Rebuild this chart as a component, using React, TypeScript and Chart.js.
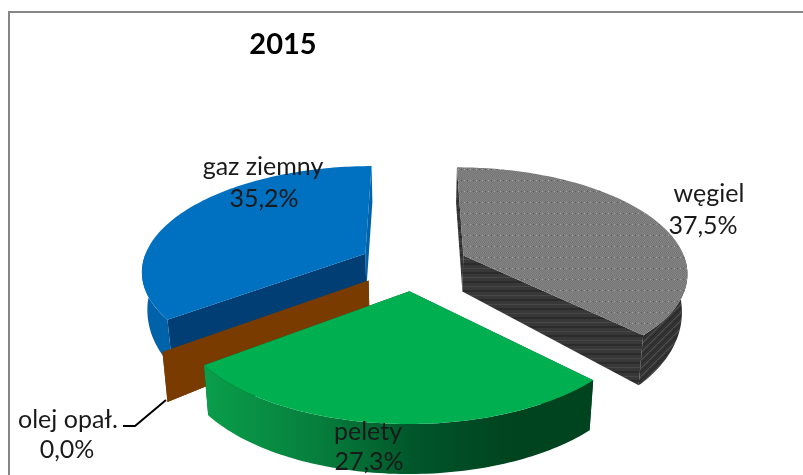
import React, { useEffect, useRef } from "react";
import { Chart, registerables } from "chart.js";

Chart.register(...registerables);

const chartTitle = "2015";
const categories = ["węgiel", "pelety", "olej opał.", "gaz ziemny"];
const shares = [37.5, 27.3, 0.0, 35.2];

const FONT = "Lato, Carlito, sans-serif";
const labelAnchors = [
  [709, 194, 703, 226],
  [368, 432, 369, 462],
  [68, 420, 67, 450],
  [263, 167, 264, 199],
];
const topColors = ["#7f7f7f", "#00B050", "#7A3B00", "#0070C0"];
const startWallColors = ["#383838", "#004d26", "#7A3B00", "#003E73"];
const endWallColors = ["#383838", "#004d26", "#7A3B00", "#0062A8"];
const rimColors = ["#333333", "#006B35", "#7A3B00", "#0062A8"];
const drawOrder = [0, 3, 2, 1];

const EXPLODE = 0.245;
const PERSP = 0.15;
const RX = 1.064;
const RY = 0.495;
const SHRINK = 0.98;

function tile(w: number, h: number, paint: (c: CanvasRenderingContext2D) => void) {
  const cv = document.createElement("canvas");
  cv.width = w;
  cv.height = h;
  const c = cv.getContext("2d")!;
  paint(c);
  return cv;
}

function grayTop(ctx: CanvasRenderingContext2D) {
  return ctx.createPattern(
    tile(12, 11, (c) => {
      for (let y = 0; y < 11; y++)
        for (let x = 0; x < 12; x++) {
          c.fillStyle = (x + y) % 2 ? "#858585" : "#747474";
          c.fillRect(x, y, 1, 1);
        }
      c.fillStyle = "#a0a0a0";
      c.fillRect(2, 4, 1, 1);
      c.fillRect(8, 4, 1, 1);
      c.fillStyle = "#606060";
      c.fillRect(5, 4, 1, 1);
      c.fillRect(11, 4, 1, 1);
    }),
    "repeat"
  )!;
}

function grayFront(ctx: CanvasRenderingContext2D) {
  return ctx.createPattern(
    tile(4, 9, (c) => {
      c.fillStyle = "#383838";
      c.fillRect(0, 0, 4, 9);
      c.fillStyle = "#2b2b2b";
      c.fillRect(0, 2, 4, 2);
      c.fillStyle = "#474747";
      c.fillRect(0, 7, 4, 1);
    }),
    "repeat"
  )!;
}

function grayRim(ctx: CanvasRenderingContext2D) {
  return ctx.createPattern(
    tile(8, 8, (c) => {
      c.fillStyle = "#333333";
      c.fillRect(0, 0, 8, 8);
      c.fillStyle = "#484848";
      for (let i = 0; i < 8; i++) c.fillRect(i, (8 - i) % 8, 1, 2);
      c.fillStyle = "#262626";
      for (let i = 0; i < 8; i++) c.fillRect(i, (12 - i) % 8, 1, 1);
    }),
    "repeat"
  )!;
}

const pie3d = {
  id: "pie3d",
  beforeDraw(chart: any) {
    const { ctx, width, height } = chart;
    ctx.save();
    ctx.fillStyle = "#ffffff";
    ctx.fillRect(0, 0, width, height);
    ctx.strokeStyle = "#868686";
    ctx.lineWidth = 2;
    ctx.strokeRect(9, 12, 810, 520);
    ctx.restore();
  },
  beforeDatasetDraw(chart: any, args: any) {
    const ctx: CanvasRenderingContext2D = chart.ctx;
    const arcs = args.meta.data;

    const makeProjector = (arc: any, ox: number, oy: number) => {
      const B = arc.outerRadius * RX;
      const A = arc.outerRadius * RY;
      const top = (a: number, r: number) => {
        const x = ox + Math.sin(a) * r;
        const y = oy - Math.cos(a) * r;
        const p = 1 / (1 - PERSP * y);
        return { sx: arc.x + x * B * p, sy: arc.y + y * A * p, y };
      };
      const low = (a: number, r: number) => {
        const t = top(a, r);
        const depth = 36 + 14 * Math.min(1, Math.max(0, t.y) / 0.6);
        return { sx: arc.x + (t.sx - arc.x) * SHRINK, sy: t.sy + depth, y: t.y };
      };
      return { top, low };
    };

    const poly = (pts: { sx: number; sy: number }[], fill: any) => {
      ctx.beginPath();
      pts.forEach((q, i) => (i ? ctx.lineTo(q.sx, q.sy) : ctx.moveTo(q.sx, q.sy)));
      ctx.closePath();
      ctx.fillStyle = fill;
      ctx.fill();
    };

    ctx.save();
    for (const i of drawOrder) {
      const arc = arcs[i];
      const a0 = arc.startAngle + Math.PI / 2;
      const a1 = arc.endAngle + Math.PI / 2;
      const mid = (a0 + a1) / 2;
      const P = makeProjector(arc, Math.sin(mid) * EXPLODE, -Math.cos(mid) * EXPLODE);

      const sweep = (s: number, e: number, fn: (a: number, r: number) => any) => {
        const n = Math.max(1, Math.ceil((e - s) / 0.02));
        const out = [];
        for (let k = 0; k <= n; k++) out.push(fn(s + ((e - s) * k) / n, 1));
        return out;
      };

      poly(
        [P.top(a1, 0), P.top(a1, 1), P.low(a1, 1), P.low(a1, 0)],
        i === 0 ? grayFront(ctx) : endWallColors[i]
      );
      poly(
        [P.top(a0, 0), P.top(a0, 1), P.low(a0, 1), P.low(a0, 0)],
        i === 0 ? grayFront(ctx) : startWallColors[i]
      );

      const rs = Math.max(a0, Math.PI / 2);
      const re = Math.min(a1, (3 * Math.PI) / 2);
      if (re > rs) {
        let rimFill: any = rimColors[i];
        if (i === 0) rimFill = grayRim(ctx);
        if (i === 1) {
          const g = ctx.createLinearGradient(200, 0, 592, 0);
          g.addColorStop(0, "#0A9F4B");
          g.addColorStop(0.3, "#067F3D");
          g.addColorStop(0.55, "#005529");
          g.addColorStop(0.8, "#00431F");
          g.addColorStop(1, "#00441F");
          rimFill = g;
        }
        poly([...sweep(rs, re, P.top), ...sweep(rs, re, P.low).reverse()], rimFill);
      }

      const topFill = i === 0 ? grayTop(ctx) : topColors[i];
      poly([P.top(a0, 0), ...sweep(a0, a1, P.top)], topFill);
    }
    ctx.restore();
    return false;
  },
  afterDraw(chart: any) {
    const ctx: CanvasRenderingContext2D = chart.ctx;
    ctx.save();
    ctx.textAlign = "center";
    ctx.textBaseline = "middle";
    ctx.fillStyle = "#000000";
    ctx.font = `bold 29px ${FONT}`;
    ctx.fillText(chartTitle, 283, 45);

    ctx.strokeStyle = "#000000";
    ctx.lineWidth = 2;
    ctx.beginPath();
    ctx.moveTo(123, 426);
    ctx.lineTo(135, 426);
    ctx.lineTo(166, 400);
    ctx.stroke();

    ctx.font = `25px ${FONT}`;
    ctx.fillStyle = "#1a1a1a";
    categories.forEach((name, i) => {
      const [x1, y1, x2, y2] = labelAnchors[i];
      ctx.fillText(name, x1, y1);
      ctx.fillText(`${shares[i].toFixed(1).replace(".", ",")}%`, x2, y2);
    });
    ctx.restore();
  },
};

export default function App() {
  const ref = useRef<HTMLCanvasElement>(null);
  useEffect(() => {
    const chart = new Chart(ref.current!, {
      type: "pie",
      data: {
        labels: categories,
        datasets: [{ data: shares, backgroundColor: topColors, borderWidth: 0 }],
      },
      options: {
        responsive: false,
        animation: false,
        events: [],
        layout: { padding: { left: 24, top: 55 } },
        plugins: { legend: { display: false }, tooltip: { enabled: false }, title: { display: false } },
      },
      plugins: [pie3d],
    } as any);
    return () => chart.destroy();
  }, []);
  return (
    <div style={{ position: "fixed", left: 0, top: 0 }}>
      <canvas ref={ref} width={803} height={475} style={{ display: "block" }} />
    </div>
  );
}
